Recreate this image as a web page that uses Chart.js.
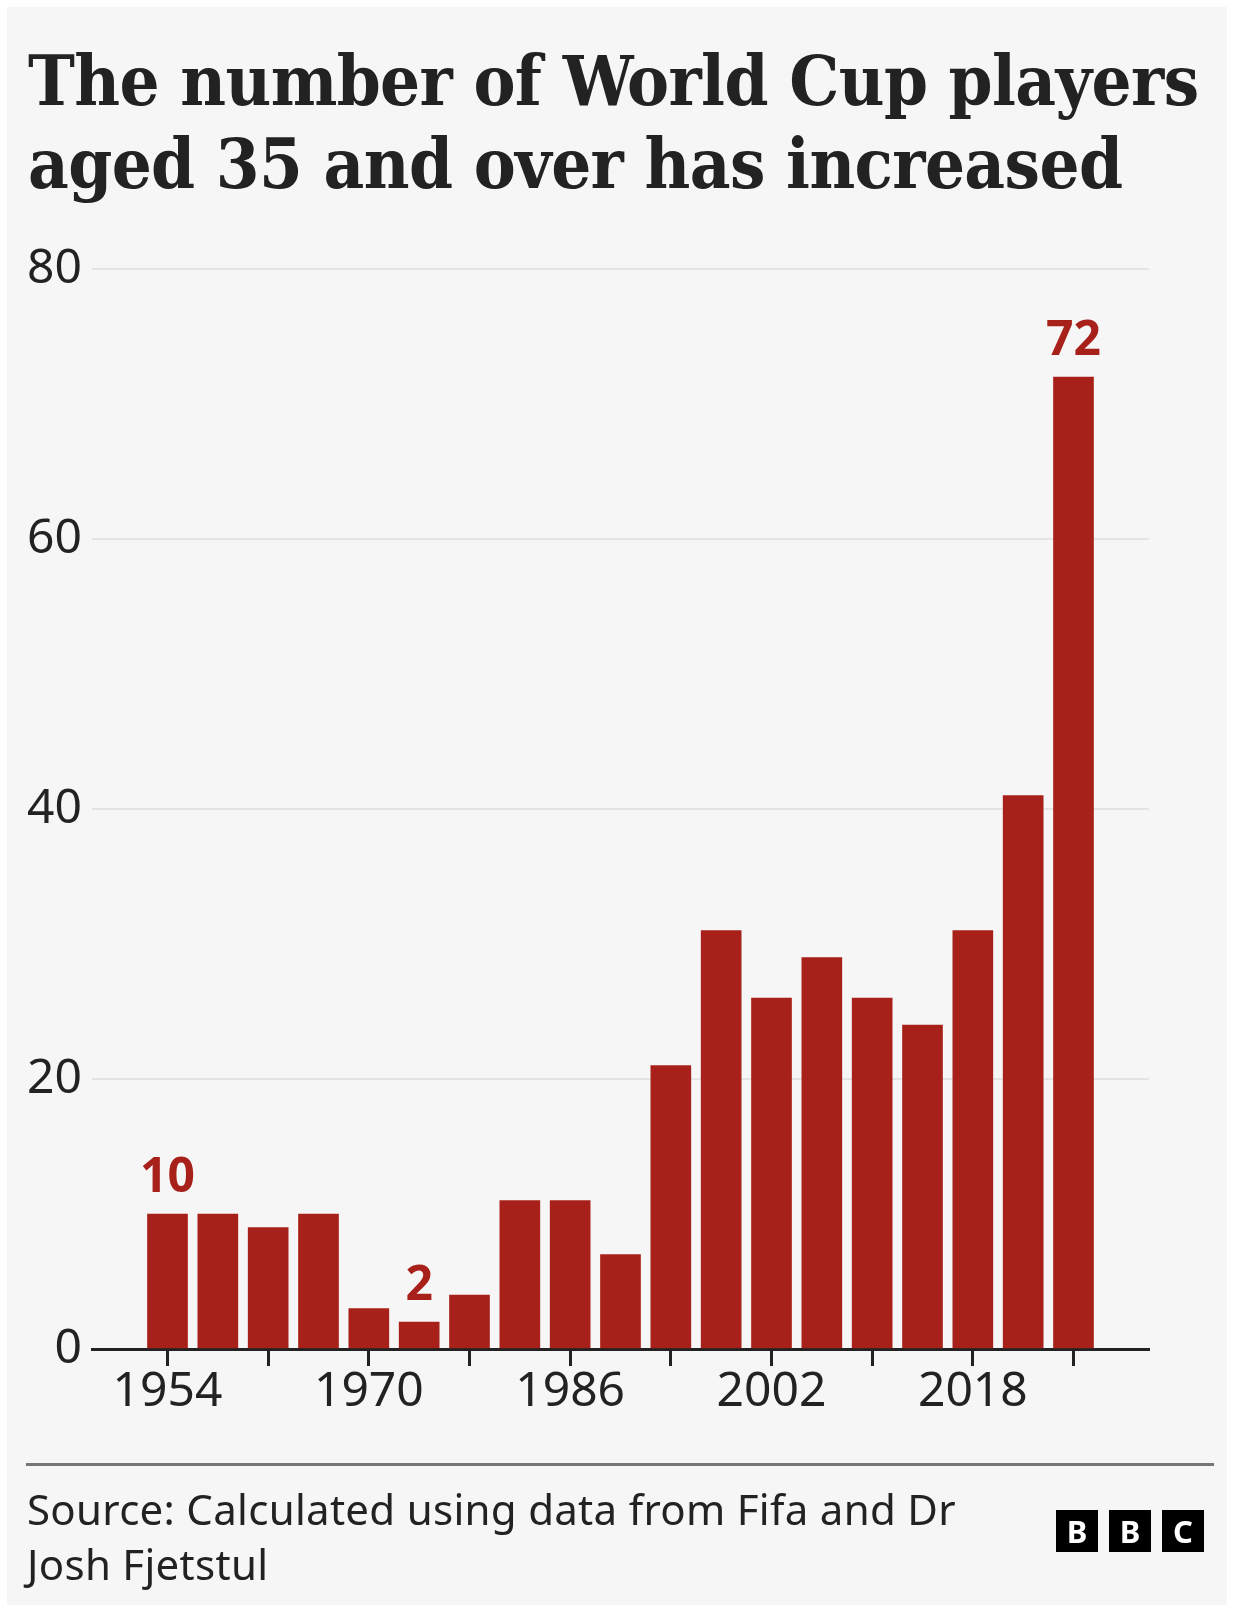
<!DOCTYPE html>
<html>
<head>
<meta charset="utf-8">
<script src="https://cdn.jsdelivr.net/npm/chart.js@4.4.0/dist/chart.umd.min.js"></script>
<style>
  html, body { margin: 0; padding: 0; background: #fff; }
  #page { position: relative; width: 1234px; height: 1612px; overflow: hidden; }
  #panel { position: absolute; left: 7px; top: 7px; right: 7px; bottom: 7px; background: #f6f6f6; }
  #chart { position: absolute; left: 0; top: 0; }
  .title {
    position: absolute; left: 28px; top: 39px; margin: 0;
    font-family: "DejaVu Serif Condensed", "DejaVu Serif", serif; font-weight: bold;
    font-size: 70px; line-height: 83px; letter-spacing: -0.6px; color: #222; white-space: nowrap;
  }
  .rule { position: absolute; left: 26px; width: 1188px; top: 1463px; height: 3px; background: #777; }
  .source {
    position: absolute; left: 27px; top: 1481px; margin: 0;
    font-family: "Noto Sans", sans-serif; font-size: 42px; line-height: 55px; letter-spacing: 0.3px; color: #222;
  }
  .logo { position: absolute; left: 1056px; top: 1510px; display: flex; gap: 11px; }
  .logo span {
    width: 42px; height: 42px; background: #000; color: #fff;
    font: bold 31px/42px "Noto Sans", sans-serif; text-align: center;
  }
</style>
</head>
<body>
<div id="page">
  <div id="panel"></div>
  <canvas id="chart" width="1234" height="1612"></canvas>
  <h1 class="title">The number of World Cup players<br>aged 35 and over has increased</h1>
  <div class="rule"></div>
  <p class="source">Source: Calculated using data from Fifa and Dr<br>Josh Fjetstul</p>
  <div class="logo"><span>B</span><span>B</span><span>C</span></div>
</div>
<script>
// World Cup years and count of players aged 35+
const years = [1954, 1958, 1962, 1966, 1970, 1974, 1978, 1982, 1986, 1990,
               1994, 1998, 2002, 2006, 2010, 2014, 2018, 2022, 2026];
const players = [10, 10, 9, 10, 3, 2, 4, 11, 11, 7, 21, 31, 26, 29, 26, 24, 31, 41, 72];

const tickYears = [1954, 1962, 1970, 1978, 1986, 1994, 2002, 2010, 2018, 2026];
const labelledYears = [1954, 1970, 1986, 2002, 2018];
const yTicks = [0, 20, 40, 60, 80];
const annotated = [1954, 1974, 2026];

const RED = '#a8201a';
const INK = '#222222';

// value labels above selected bars
const barLabels = {
  id: 'barLabels',
  afterDatasetsDraw(chart) {
    const meta = chart.getDatasetMeta(0);
    const ctx = chart.ctx;
    ctx.save();
    ctx.fillStyle = RED;
    ctx.font = 'bold 48px "Noto Sans", sans-serif';
    ctx.textAlign = 'center';
    ctx.textBaseline = 'alphabetic';
    annotated.forEach(yr => {
      const i = years.indexOf(yr);
      const bar = meta.data[i];
      ctx.fillText(String(players[i]), bar.x, bar.y - 22);
    });
    ctx.restore();
  }
};

new Chart(document.getElementById('chart'), {
  type: 'bar',
  data: {
    datasets: [{
      data: years.map((yr, i) => ({ x: yr, y: players[i] })),
      backgroundColor: RED,
      barThickness: 40,
      borderWidth: 0,
    }],
  },
  plugins: [barLabels],
  options: {
    responsive: false,
    animation: false,
    layout: { padding: { left: 0, right: 85, top: 269, bottom: 190 } },
    plugins: { legend: { display: false }, tooltip: { enabled: false } },
    scales: {
      x: {
        type: 'linear',
        min: 1948,
        max: 2032,
        offset: false,
        afterBuildTicks: scale => { scale.ticks = tickYears.map(v => ({ value: v })); },
        afterFit: scale => { scale.height = 73; },
        grid: {
          offset: false,
          drawOnChartArea: false,
          drawTicks: true,
          tickLength: 17,
          tickWidth: 3,
          tickColor: INK,
        },
        border: { display: true, color: INK, width: 3 },
        ticks: {
          autoSkip: false,
          maxRotation: 0,
          padding: -2,
          color: INK,
          font: { family: '"Noto Sans", sans-serif', size: 48 },
          callback: v => labelledYears.includes(v) ? String(v) : '',
        },
      },
      y: {
        min: 0,
        max: 80,
        afterBuildTicks: scale => { scale.ticks = yTicks.map(v => ({ value: v })); },
        afterFit: scale => { scale.width = 92; },
        grid: { color: '#e4e4e4', lineWidth: 2, drawTicks: false },
        border: { display: false },
        ticks: {
          padding: 10,
          color: INK,
          font: { family: '"Noto Sans", sans-serif', size: 48 },
        },
      },
    },
  },
});
</script>
</body>
</html>
